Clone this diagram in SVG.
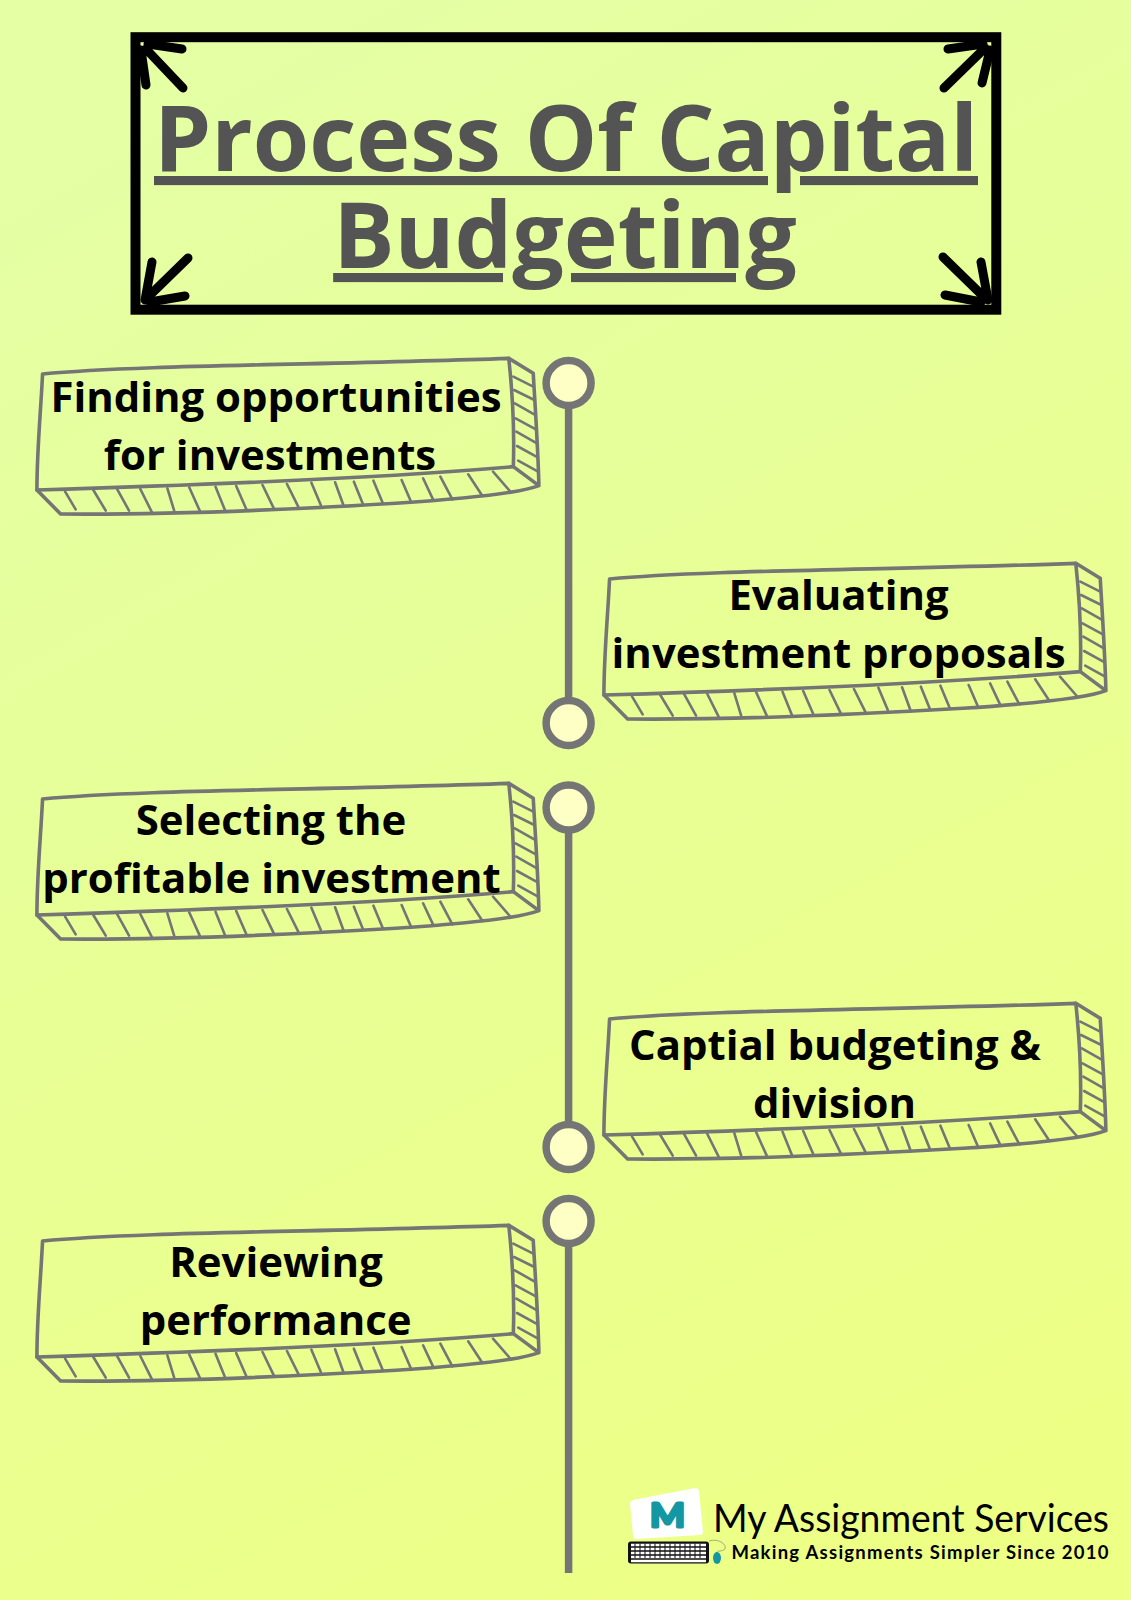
<svg xmlns="http://www.w3.org/2000/svg" xmlns:xlink="http://www.w3.org/1999/xlink" width="1131" height="1600" viewBox="0 0 1131 1600">
<style>
.t{font-family:"Open Sans","Noto Sans",sans-serif;font-weight:700;font-size:41.9px;fill:#000;text-anchor:middle}
.h{font-family:"Open Sans","Noto Sans",sans-serif;font-weight:700;font-size:91.3px;fill:#545454;text-anchor:middle;text-decoration:underline;text-decoration-thickness:8.5px;text-underline-offset:6px;text-decoration-skip-ink:auto}
.dot{fill:#fdffc4;stroke:#757575;stroke-width:7.5}
.conn{stroke:#757575;stroke-width:7.5;fill:none}
.arr{stroke:#000;stroke-width:9;stroke-linecap:round;fill:none}
.o{fill:none;stroke:#757575;stroke-width:3.6;stroke-linejoin:round;stroke-linecap:round;vector-effect:non-scaling-stroke}
.ha{fill:none;stroke:#757575;stroke-width:2.6;stroke-linecap:round;vector-effect:non-scaling-stroke}
</style>
<defs>
<linearGradient id="bg" x1="0.3" y1="0" x2="0.7" y2="1">
<stop offset="0" stop-color="#e4ffa4"/><stop offset="1" stop-color="#edff85"/>
</linearGradient>
<g id="crate" transform="translate(20,340) scale(.376,.3333)">
<path class="o" d="M60,102C300,75 800,75 1300,55C1310,160 1315,280 1312,380C1000,410 500,435 45,450C45,330 55,220 60,102Z"/>
<path class="o" d="M1300,55L1365,100C1370,200 1378,330 1380,437L1312,380M1380,437C1340,455 1200,475 1000,490C700,510 400,525 108,522L45,450"/>
<path class="ha" d="M120,455L148,508M195,450L228,512M258,447L290,512M320,447L350,515M392,445L410,512M450,442L478,512M520,440L545,510M575,438L602,508M645,435L675,505M710,432L740,500M775,428L800,495M838,427L860,495M888,425L912,492M940,422L965,490M1015,420L1040,485M1072,415L1100,482M1118,410L1150,478M1192,403L1230,468M1258,395L1305,456"/>
<path class="ha" d="M1312,110L1365,140M1314,150L1368,180M1316,190L1370,225M1318,235L1372,268M1320,275L1375,310M1322,318L1377,352M1325,362L1378,395"/>
</g>
</defs>
<rect id="background" width="1131" height="1600" fill="url(#bg)"/>
<g id="title">
<rect x="135.500" y="37.200" width="860.800" height="272.500" fill="none" stroke="#000" stroke-width="10"/>
<path class="arr" d="M183,88L146,49M182,49L148,44M146,85L141,50"/>
<path class="arr" d="M944,88L985,48M948,49L983,44M982,83L990,50"/>
<path class="arr" d="M188,258L147,298M152,262L145,300M185,296L150,302"/>
<path class="arr" d="M943,257L985,298M981,262L988,300M945,295L981,302"/>
<text class="h" x="566" y="171">Process Of Capital</text>
<text class="h" x="565" y="268">Budgeting</text>
</g>
<g id="connectors">
<line class="conn" x1="568.600" y1="383" x2="568.600" y2="723"/>
<line class="conn" x1="568.600" y1="807.500" x2="568.600" y2="1147"/>
<line class="conn" x1="568.600" y1="1221" x2="568.600" y2="1573"/>
</g>
<g id="dot-1"><circle class="dot" cx="568.600" cy="383" r="22.500"/></g>
<g id="dot-2"><circle class="dot" cx="568.600" cy="723" r="22.500"/></g>
<g id="dot-3"><circle class="dot" cx="568.600" cy="807.500" r="22.500"/></g>
<g id="dot-4"><circle class="dot" cx="568.600" cy="1147" r="22.500"/></g>
<g id="dot-5"><circle class="dot" cx="568.600" cy="1221" r="22.500"/></g>
<g id="step-1"><use xlink:href="#crate" href="#crate"/>
<text class="t" x="276" y="412">Finding opportunities</text><text class="t" x="270" y="470">for investments</text></g>
<g id="step-2"><use xlink:href="#crate" href="#crate" x="567" y="205"/>
<text class="t" x="838.600" y="610">Evaluating</text><text class="t" x="838.600" y="668">investment proposals</text></g>
<g id="step-3"><use xlink:href="#crate" href="#crate" x="0" y="425"/>
<text class="t" x="271" y="835">Selecting the</text><text class="t" x="271.500" y="893">profitable investment</text></g>
<g id="step-4"><use xlink:href="#crate" href="#crate" x="567" y="645"/>
<text class="t" x="835" y="1060">Captial budgeting &amp;</text><text class="t" x="834.500" y="1117.500">division</text></g>
<g id="step-5"><use xlink:href="#crate" href="#crate" x="0" y="867"/>
<text class="t" x="276" y="1277">Reviewing</text><text class="t" x="275.600" y="1335">performance</text></g>
<g id="logo">
<path d="M633,1500L695,1488Q698,1487.500 699,1491L703,1532Q703,1535 700,1535L637,1539Q633,1539 633,1536L630,1504Q630,1501 633,1500Z" fill="#fff"/>
<text x="667.500" y="1527" font-family="Lato,'Open Sans',sans-serif" font-weight="700" font-size="32" fill="#1397a3" stroke="#1397a3" stroke-width="3" stroke-linejoin="round" text-anchor="middle" textLength="35" lengthAdjust="spacingAndGlyphs">M</text>
<rect x="628" y="1541.500" width="81" height="22" rx="3" fill="#111"/>
<path d="M631,1545H706M631,1549H706M631,1553H706M631,1557H706M631,1561H706" stroke="#fff" stroke-width="2.500"/>
<path d="M635,1543.500V1558M640,1543.500V1558M645,1543.500V1558M650,1543.500V1558M655,1543.500V1558M660,1543.500V1558M665,1543.500V1558M670,1543.500V1558M675,1543.500V1558M680,1543.500V1558M685,1543.500V1558M690,1543.500V1558M695,1543.500V1558M700,1543.500V1558" stroke="#111" stroke-width="1"/>
<path d="M709,1541C718,1538 727,1544 725,1549C722,1552 717,1550 717,1553" fill="none" stroke="#8a9a70" stroke-width="0.800"/>
<ellipse cx="717" cy="1558" rx="4" ry="6" fill="#1397a3"/>
<text x="713" y="1532" font-family="Lato,'Open Sans',sans-serif" font-size="39" fill="#000" textLength="396" lengthAdjust="spacingAndGlyphs">My Assignment Services</text>
<text x="731.500" y="1559" font-family="Lato,'Open Sans',sans-serif" font-weight="700" font-size="18.500" fill="#000" textLength="377" lengthAdjust="spacing">Making Assignments Simpler Since 2010</text>
</g>
</svg>
